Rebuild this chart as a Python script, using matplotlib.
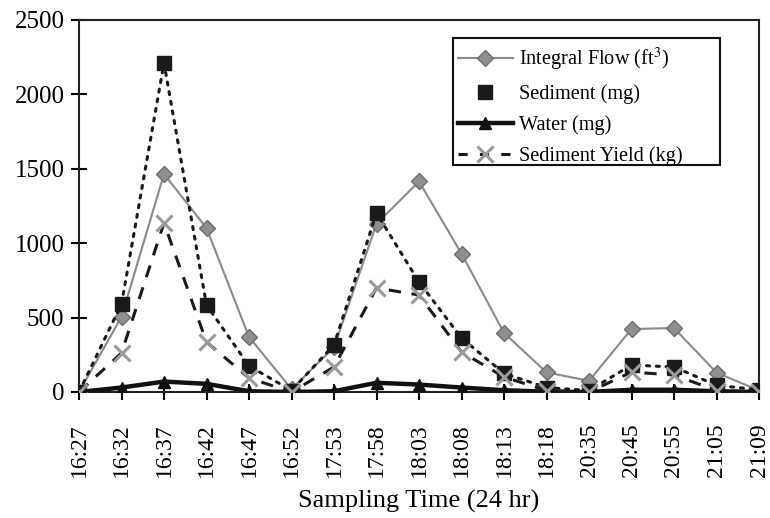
import matplotlib
matplotlib.use("Agg")
import matplotlib.pyplot as plt
from matplotlib.lines import Line2D
from matplotlib.patches import Rectangle

times = ["16:27", "16:32", "16:37", "16:42", "16:47", "16:52", "17:53", "17:58",
         "18:03", "18:08", "18:13", "18:18", "20:35", "20:45", "20:55", "21:05", "21:09"]
integral_flow = [0, 505, 1465, 1102, 370, 20, 300, 1130, 1415, 930, 397, 132, 75, 423, 430, 130, 10]
sediment = [0, 591, 2211, 585, 175, 10, 316, 1203, 739, 363, 125, 30, 10, 181, 168, 45, 15]
water = [0, 30, 70, 55, 5, 0, 5, 62, 50, 30, 12, 2, 0, 15, 15, 5, 0]
sediment_yield = [0, 262, 1136, 336, 94, 0, 168, 699, 652, 269, 101, 10, 0, 134, 114, 10, 0]

plt.rcParams["font.family"] = ["Liberation Serif", "DejaVu Serif"]
plt.rcParams["mathtext.fontset"] = "stix"

W, H = 770, 518
fig = plt.figure(figsize=(W / 100, H / 100), dpi=100)
ax = fig.add_axes([79 / W, 1 - 392 / H, (759 - 79) / W, (392 - 20) / H])

x = list(range(len(times)))

ax.plot(x, integral_flow, color="#8a8a8a", lw=1.5, marker="D", ms=8,
        mfc="#8f8f8f", mec="#6e6e6e", zorder=3)
ax.plot(x, sediment, color="#1a1a1a", lw=2.2, ls=(0, (1, 2.2)), dash_capstyle="round",
        marker="s", ms=10, mfc="#1a1a1a", mec="#1a1a1a", zorder=4)
ax.plot(x, water, color="#111111", lw=3.2, marker="^", ms=9,
        mfc="#111111", mec="#111111", zorder=5)
ax.plot(x, sediment_yield, color="#1a1a1a", lw=2.2, ls=(0, (4, 3.5)), marker="x", ms=12,
        mew=2.2, mec="#9a9a9a", zorder=6)

ax.set_xlim(0, len(times) - 1)
ax.set_ylim(0, 2500)
ax.set_yticks([0, 500, 1000, 1500, 2000, 2500])
ax.set_xticks(x)
ax.set_xticklabels(times, rotation=90, fontsize=17)
ax.tick_params(axis="y", labelsize=18, direction="inout", length=11, width=1.5, pad=5)
ax.tick_params(axis="x", direction="inout", length=11, width=1.5, pad=17)
for s in ax.spines.values():
    s.set_linewidth(1.5)
    s.set_color("#222222")

ax.set_xlabel("Sampling Time (24 hr)", fontsize=19, labelpad=9)

handles = [
    Line2D([], [], color="#8a8a8a", lw=1.5, marker="D", ms=8, mfc="#8f8f8f", mec="#6e6e6e"),
    Line2D([], [], ls="none", marker="s", ms=10, mfc="#1a1a1a", mec="#1a1a1a"),
    Line2D([], [], color="#111111", lw=3.2, marker="^", ms=9, mfc="#111111", mec="#111111"),
    Line2D([], [], color="#1a1a1a", lw=2.2, ls=(0, (3, 4)), marker="x", ms=11, mew=2.2, mec="#9a9a9a"),
]
labels = ["Integral Flow (ft$^{3}$)", "Sediment (mg)", "Water (mg)", "Sediment Yield (kg)"]
leg = fig.legend(handles, labels, loc="upper left", bbox_to_anchor=(453 / W, 1 - 41 / H),
                 fontsize=14.6, frameon=False, handlelength=2.7, handletextpad=0.3,
                 borderpad=0.25, borderaxespad=0, labelspacing=0.55)

# legend frame, wider on the right than the entries themselves
fig.add_artist(Rectangle((453 / W, 1 - 165 / H), (720 - 453) / W, (165 - 38) / H,
                         transform=fig.transFigure, fill=True, facecolor="white",
                         edgecolor="#111111", lw=1.5, zorder=1))
leg.set_zorder(2)

fig.savefig("out.png", dpi=100)
